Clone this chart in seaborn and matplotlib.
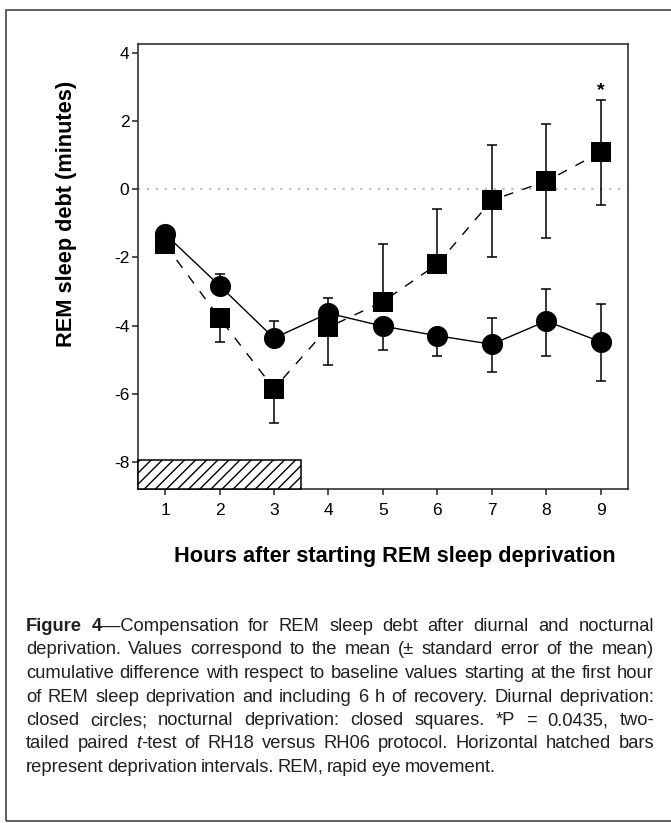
import re
import numpy as np
import pandas as pd
import matplotlib
matplotlib.use("Agg")
import matplotlib.pyplot as plt
import seaborn as sns
from matplotlib.patches import Rectangle

# ---------------- data ----------------
hours = [1, 2, 3, 4, 5, 6, 7, 8, 9]
diurnal_mean = [-1.32, -2.83, -4.37, -3.64, -4.02, -4.30, -4.55, -3.87, -4.48]
diurnal_err_low = [0.0, 0.0, 0.0, 0.0, 0.69, 0.58, 0.81, 1.02, 1.14]
diurnal_err_high = [0.0, 0.34, 0.50, 0.45, 0.0, 0.0, 0.77, 0.95, 1.11]
nocturnal_mean = [-1.62, -3.78, -5.85, -4.05, -3.30, -2.20, -0.33, 0.23, 1.08]
nocturnal_err_low = [0.0, 0.69, 1.00, 1.12, 0.0, 0.0, 1.65, 1.68, 1.56]
nocturnal_err_high = [0.0, 0.0, 0.0, 0.0, 1.69, 1.61, 1.63, 1.68, 1.54]
deprivation_interval = [0.5, 3.5]
deprivation_bar_top = -7.93
y_ticks = [-8, -6, -4, -2, 0, 2, 4]
x_limits = [0.5, 9.5]
y_limits = [-8.8, 4.25]
significant_hour = 9
significant_y = 2.75
significant_mark = "*"
x_label = "Hours after starting REM sleep deprivation"
y_label = "REM sleep debt (minutes)"
caption_lines = [
    "**Figure 4**\u2014Compensation for REM sleep debt after diurnal and nocturnal",
    "deprivation. Values correspond to the mean (\u00b1 standard error of the mean)",
    "cumulative difference with respect to baseline values starting at the first hour",
    "of REM sleep deprivation and including 6 h of recovery. Diurnal deprivation:",
    "closed circles; nocturnal deprivation: closed squares. *P = 0.0435, two-",
    "tailed paired _t_-test of RH18 versus RH06 protocol. Horizontal hatched bars",
    "represent deprivation intervals. REM, rapid eye movement.",
]

# ---------------- style ----------------
sns.set_style("ticks")
FAM = ["Liberation Sans", "DejaVu Sans"]
plt.rcParams["font.family"] = FAM
plt.rcParams["axes.unicode_minus"] = False

W, H = 671, 823
fig = plt.figure(figsize=(W / 100, H / 100), dpi=100)
fig.patch.set_facecolor("white")

ax_l, ax_r, ax_t, ax_b = 137.8, 628.0, 44.0, 489.3
ax = fig.add_axes([ax_l / W, 1 - ax_b / H, (ax_r - ax_l) / W, (ax_b - ax_t) / H])
ax.set_facecolor("white")

df_d = pd.DataFrame({"hour": hours, "debt": diurnal_mean})
df_n = pd.DataFrame({"hour": hours, "debt": nocturnal_mean})

# zero reference line
ax.axhline(0, color="#bdbdbd", lw=1.6, linestyle=(0, (1, 3)), zorder=0.5)

# error bars
ax.errorbar(hours, nocturnal_mean, yerr=[nocturnal_err_low, nocturnal_err_high],
            fmt="none", ecolor="black", elinewidth=1.1, capsize=3.6, capthick=1.1,
            zorder=1.5)
ax.errorbar(hours, diurnal_mean, yerr=[diurnal_err_low, diurnal_err_high],
            fmt="none", ecolor="black", elinewidth=1.1, capsize=3.6, capthick=1.1,
            zorder=1.5)

# series
sns.lineplot(data=df_n, x="hour", y="debt", ax=ax, color="black", lw=1.0,
             marker="s", markersize=14.4, markeredgewidth=0, zorder=2)
ax.lines[-1].set_dashes((7, 7))
sns.lineplot(data=df_d, x="hour", y="debt", ax=ax, color="black", lw=1.0,
             marker="o", markersize=15.2, markeredgewidth=0, zorder=3)

# hatched deprivation bar
ax.add_patch(Rectangle((deprivation_interval[0], y_limits[0]),
                       deprivation_interval[1] - deprivation_interval[0],
                       deprivation_bar_top - y_limits[0],
                       facecolor="white", edgecolor="black", hatch="///",
                       lw=1.1, zorder=4, clip_on=False))

ax.text(significant_hour, significant_y, significant_mark, ha="center",
        va="baseline", fontsize=14, fontweight="bold", color="black")

ax.set_xlim(*x_limits)
ax.set_ylim(*y_limits)
ax.set_xticks(hours)
ax.set_yticks(y_ticks)
ax.set_xlabel("")
ax.set_ylabel("")
for s in ax.spines.values():
    s.set_visible(True)
    s.set_linewidth(1.1)
    s.set_color("#222222")
ax.tick_params(axis="both", direction="out", length=4, width=1.1,
               labelsize=12.5, colors="#222222", labelcolor="black")
ax.tick_params(axis="x", pad=6)
ax.tick_params(axis="y", pad=2)

fig.text(67 / W, 1 - 213.5 / H, y_label, rotation=90, ha="center", va="center",
         fontsize=15.7, fontweight="bold", color="black")
fig.text(395 / W, 1 - 561.7 / H, x_label, ha="center", va="baseline",
         fontsize=15.7, fontweight="bold", color="black")

# outer frame
fig.add_artist(Rectangle((5.5 / W, 1 - 821 / H), (700 - 5.5) / W, (821 - 9.5) / H,
                         transform=fig.transFigure, fill=False, lw=1.1,
                         ec="#333333", clip_on=False))

# ---------------- justified caption ----------------
fig.canvas.draw()
renderer = fig.canvas.get_renderer()
CAP_COLOR = "#231f20"


def parse(line):
    segs = []
    for part in re.split(r"(\*\*.*?\*\*|_[^_]+_)", line):
        if not part:
            continue
        if part.startswith("**"):
            segs.append((part[2:-2], "bold", "normal"))
        elif part.startswith("_") and part.endswith("_"):
            segs.append((part[1:-1], "normal", "italic"))
        else:
            segs.append((part, "normal", "normal"))
    words = [[]]
    for txt, w, s in segs:
        pieces = txt.split(" ")
        for i, p in enumerate(pieces):
            if i > 0:
                words.append([])
            if p:
                words[-1].append((p, w, s))
    return [wd for wd in words if wd]


def seg_w(txt, w, s, fs):
    t = fig.text(0, 0, txt, fontsize=fs, fontweight=w, fontstyle=s, family=FAM)
    bb = t.get_window_extent(renderer)
    t.remove()
    return bb.width


def space_w(fs):
    return seg_w("a a", "normal", "normal", fs) - seg_w("aa", "normal", "normal", fs)


parsed = [parse(l) for l in caption_lines]
left, right = 26.0, 654.0
target = right - left
fs0 = 12.0
min_gap = 3.0
fits = []
for words in parsed[:-1]:
    ww = sum(seg_w(t, w, s, fs0) for wd in words for (t, w, s) in wd)
    fits.append(fs0 * (target - min_gap * (len(words) - 1)) / ww)
fs = min(min(fits), 13.2)

baselines = [631, 654.5, 678, 701.5, 725, 748.5, 772]
for li, words in enumerate(parsed):
    widths = [[seg_w(t, w, s, fs) for (t, w, s) in wd] for wd in words]
    tot = sum(sum(x) for x in widths)
    if li < len(parsed) - 1 and len(words) > 1:
        gap = (target - tot) / (len(words) - 1)
    else:
        gap = min_gap + 0.5
    x = left
    yb = 1 - baselines[li] / H
    for wd, wl in zip(words, widths):
        xx = x
        for (t, w, s), sw in zip(wd, wl):
            fig.text(xx / W, yb, t, fontsize=fs, fontweight=w, fontstyle=s,
                     family=FAM, ha="left", va="baseline", color=CAP_COLOR)
            xx += sw
        x += sum(wl) + gap

fig.savefig("out.png", dpi=100, facecolor="white")
